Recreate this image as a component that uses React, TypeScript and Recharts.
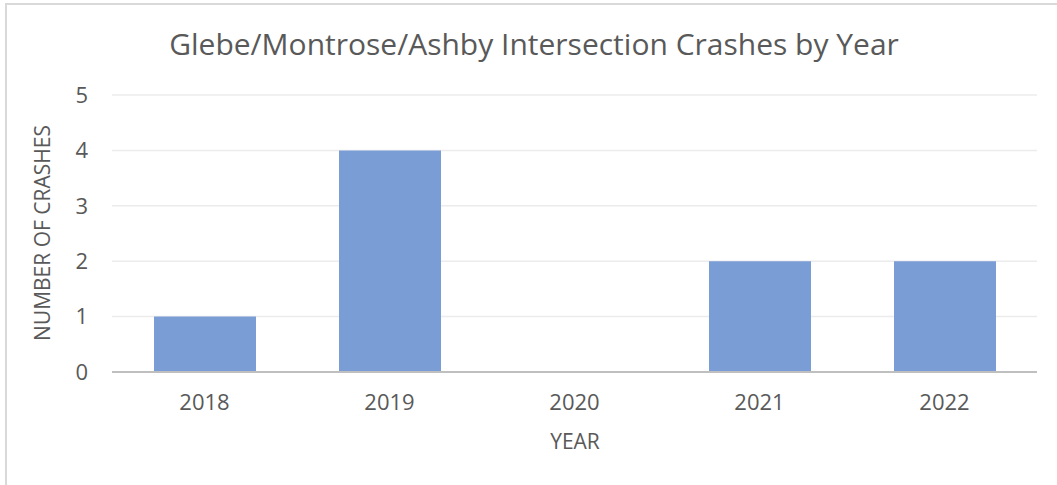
import React from 'react'
import { BarChart, Bar, XAxis, YAxis, CartesianGrid, Label } from 'recharts'

const years = ['2018', '2019', '2020', '2021', '2022']
const crashes = [1, 4, 0, 2, 2]
const yTicks = [0, 1, 2, 3, 4, 5]

const data = years.map((year, i) => ({ year, crashes: crashes[i] }))

const font = '"Open Sans", sans-serif'
const textColor = '#595959'

const App = () => {
  return (
    <div style={{ position: 'absolute', left: 0, top: 0, width: 1057, height: 485, overflow: 'hidden', background: '#fff' }}>
      <div style={{ position: 'absolute', left: 5, top: 3, width: 1200, height: 700, borderLeft: '2px solid #d9d9d9', borderTop: '2px solid #d9d9d9' }} />
      <div style={{ position: 'absolute', left: 0, top: 23, width: 1068, textAlign: 'center', fontFamily: font, fontSize: 30, color: textColor }}>
        Glebe/Montrose/Ashby Intersection Crashes by Year
      </div>
      <div style={{ position: 'absolute', left: 0, top: 0 }}>
        <BarChart width={1057} height={485} data={data} margin={{ top: 95, right: 20, bottom: 0, left: 0 }}>
          <CartesianGrid vertical={false} stroke="#ececec" strokeWidth={1.5} />
          <XAxis
            dataKey="year"
            height={113}
            tickLine={false}
            tickSize={0}
            tickMargin={22}
            axisLine={{ stroke: '#bfbfbf', strokeWidth: 2 }}
            tick={{ fill: textColor, fontFamily: font, fontSize: 22 }}
          >
            <Label
              content={() => (
                <text x={575} y={449} textAnchor="middle" fill={textColor} fontFamily={font} fontSize={21}>
                  YEAR
                </text>
              )}
            />
          </XAxis>
          <YAxis
            width={112}
            domain={[0, 5]}
            ticks={yTicks}
            interval={0}
            tickLine={false}
            tickSize={0}
            tickMargin={24}
            axisLine={false}
            tick={{ fill: textColor, fontFamily: font, fontSize: 22 }}
          >
            <Label
              content={() => (
                <text
                  x={42}
                  y={233}
                  transform="rotate(-90, 42, 233)"
                  textAnchor="middle"
                  dominantBaseline="central"
                  fill={textColor}
                  fontFamily={font}
                  fontSize={21}
                >
                  NUMBER OF CRASHES
                </text>
              )}
            />
          </YAxis>
          <Bar dataKey="crashes" fill="#7a9dd6" barSize={102} isAnimationActive={false} />
        </BarChart>
      </div>
    </div>
  )
}

export default App
